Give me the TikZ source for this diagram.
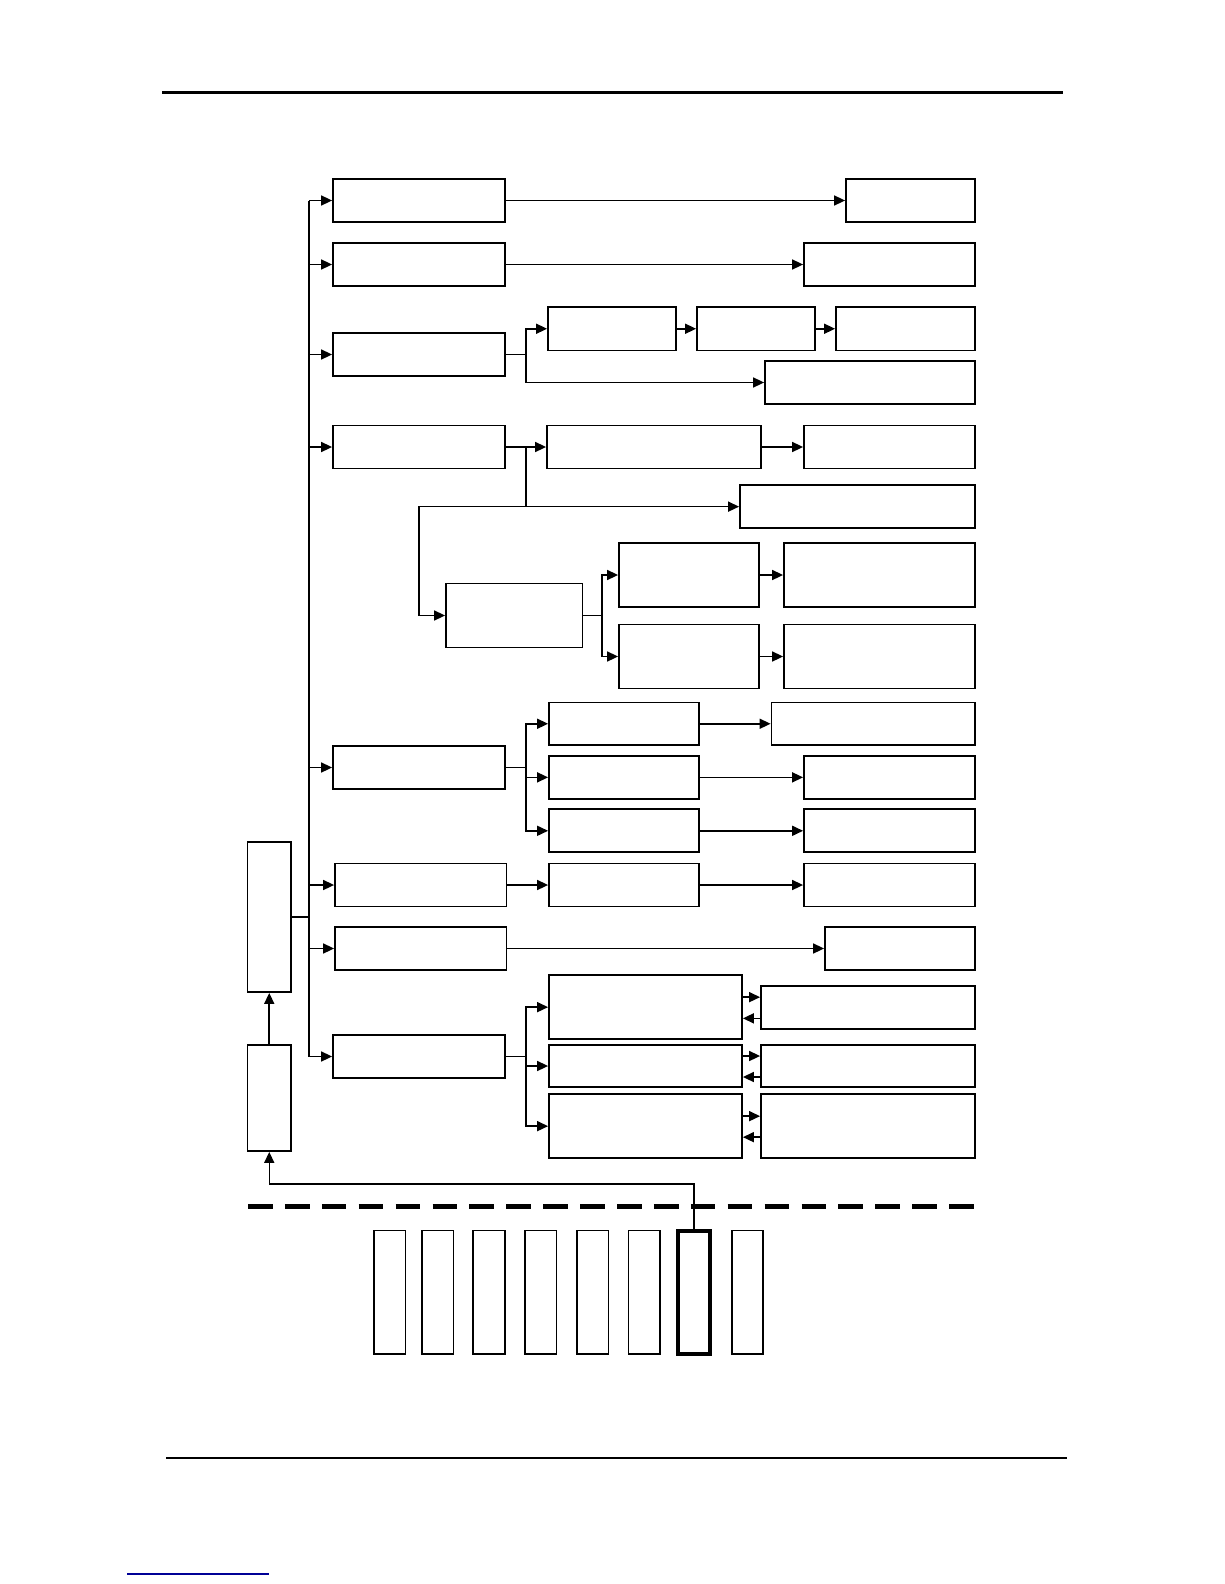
\documentclass[tikz,border=0pt]{standalone}
\usetikzlibrary{arrows.meta,calc}
\definecolor{linkblue}{RGB}{0,0,150}
\tikzset{
  box/.style={draw, line width=1.8pt, inner sep=0pt, fill=white},
  conn/.style={line width=1.6pt},
  arr/.style={conn, -{Triangle[length=11pt,width=10pt]}},
}
\newcommand\bx[6][]{\node[box,#1,minimum width={(#4)-(#2)},minimum height={(#5)-(#3)}] (#6) at ({((#2)+(#4))/2},{((#3)+(#5))/2}) {};}
\begin{document}
\begin{tikzpicture}[x=1pt,y=-1pt]
\useasboundingbox (0,0) rectangle (1224,1584);
% page rules
\draw[line width=3pt] (162,93) -- (1063,93);
\draw[line width=2.3pt] (166,1458) -- (1067,1458);
\draw[line width=1.6pt, linkblue] (127,1574) -- (269,1574);
% helper columns
\coordinate (bus) at (309,0);
\coordinate (c526) at (526,0);
\coordinate (c602) at (602,0);
\coordinate (c419) at (419,0);
\coordinate (h1184) at (0,1184);
% left column
\bx{247.5}{842.3}{291}{992}{A}
\bx{247.5}{1045}{291}{1151}{B}
% row 1
\bx{333}{179}{505}{222}{r1}
\bx{846}{179}{975}{222}{r1e}
% row 2
\bx{333}{243}{505}{286}{r2}
\bx{804}{243}{975}{286}{r2e}
% row 3
\bx{333}{333}{505}{376}{r3}
\bx{548}{307}{676}{350.5}{r3a}
\bx{697}{307}{815}{350.5}{r3b}
\bx{836}{307}{975}{350.5}{r3c}
\bx{765}{361}{975}{404}{r3d}
% row 4
\bx{333}{425.5}{505}{468.5}{r4}
\bx{547}{425.5}{761}{468.5}{r4a}
\bx{804}{425.5}{975}{468.5}{r4b}
\bx{740}{485}{975}{528.3}{r4d}
\bx{446}{583.5}{582.5}{647.5}{r5}
\bx{619}{543}{759}{607}{r6a}
\bx{619}{624.5}{759}{688.5}{r6b}
\bx{784}{543}{975}{607}{r6c}
\bx{784}{624.5}{975}{688.5}{r6d}
% row 7
\bx{333}{746}{505}{789}{r7}
\bx{549}{702.5}{699}{745}{r7a}
\bx{549}{756}{699}{798.7}{r7b}
\bx{549}{809.3}{699}{852.3}{r7c}
\bx{771.5}{702.5}{975}{745}{r7ae}
\bx{804}{756}{975}{798.7}{r7be}
\bx{804}{809.3}{975}{852.3}{r7ce}
% row 8
\bx{335}{863.5}{506.5}{906.5}{r8}
\bx{549}{863.5}{699}{906.5}{r8a}
\bx{804}{863.5}{975}{906.5}{r8e}
% row 9
\bx{335}{927}{506.5}{970}{r9}
\bx{825}{927}{975}{970}{r9e}
% row 10
\bx{333}{1035}{505}{1078}{r10}
\bx{549}{975}{742}{1039.3}{r10a}
\bx{549}{1045}{742}{1087}{r10b}
\bx{549}{1094}{742}{1158.3}{r10c}
\bx{761}{986}{975}{1028.7}{r10ae}
\bx{761}{1045}{975}{1087}{r10be}
\bx{761}{1094}{975}{1158.3}{r10ce}
% bars
\bx{374}{1230.5}{405.5}{1354}{k1}
\bx{422}{1230.5}{453.5}{1354}{k2}
\bx{473}{1230.5}{505}{1354}{k3}
\bx{525}{1230.5}{556.5}{1354}{k4}
\bx{577}{1230.5}{608.5}{1354}{k5}
\bx{628.5}{1230.5}{660}{1354}{k6}
\bx[line width=4pt]{678}{1230.5}{710}{1354}{k7}
\bx{732}{1230.5}{763}{1354}{k8}
% dashed separator
\draw[line width=5pt, dash pattern=on 24.6pt off 12.3pt] (248,1206) -- (975,1206);
% bus
\draw[conn] (r1.west -| bus) -- (r10.west -| bus);
\draw[conn] (A.east) -- (A.east -| bus);
\foreach \r in {r1,r2,r3,r4,r7,r8,r9,r10}
  \draw[arr] (\r.west -| bus) -- (\r.west);
\draw[arr] (B.north) -- (A.south);
\draw[arr, line width=1.5pt] (k7.north) -- (k7.north |- h1184) -| (B.south);
% row 1, 2
\draw[arr] (r1.east) -- (r1e.west);
\draw[arr] (r2.east) -- (r2e.west);
% row 3
\draw[conn] (r3.east) -- (r3.east -| c526);
\draw[arr] (r3.east -| c526) |- (r3a.west);
\draw[arr] (r3.east -| c526) |- (r3d.west);
\draw[arr] (r3a.east) -- (r3b.west);
\draw[arr] (r3b.east) -- (r3c.west);
% row 4
\draw[arr] (r4.east) -- (r4a.west);
\draw[arr] (r4a.east) -- (r4b.west);
\draw[conn] (r4.east -| c526) -- (r4d.west -| c526);
\draw[arr] (r4d.west -| c526) -- (r4d.west);
\draw[arr] (r4d.west -| c526) -- (r4d.west -| c419) |- (r5.west);
\draw[conn] (r5.east) -- (r5.east -| c602);
\draw[arr] (r5.east -| c602) |- (r6a.west);
\draw[arr] (r5.east -| c602) |- (r6b.west);
\draw[arr] (r6a.east) -- (r6c.west);
\draw[arr] (r6b.east) -- (r6d.west);
% row 7
\draw[conn] (r7.east) -- (r7.east -| c526);
\draw[arr] (r7.east -| c526) |- (r7a.west);
\draw[arr] (r7.east -| c526) |- (r7b.west);
\draw[arr] (r7.east -| c526) |- (r7c.west);
\draw[arr] (r7a.east) -- (r7ae.west);
\draw[arr] (r7b.east) -- (r7be.west);
\draw[arr] (r7c.east) -- (r7ce.west);
% row 8, 9
\draw[arr] (r8.east) -- (r8a.west);
\draw[arr] (r8a.east) -- (r8e.west);
\draw[arr] (r9.east) -- (r9e.west);
% row 10
\draw[conn] (r10.east) -- (r10.east -| c526);
\draw[arr] (r10.east -| c526) |- (r10a.west);
\draw[arr] (r10.east -| c526) |- (r10b.west);
\draw[arr] (r10.east -| c526) |- (r10c.west);
\foreach \a/\b in {r10a/r10ae,r10b/r10be,r10c/r10ce}{
  \draw[arr] ([yshift=10pt]\a.east) -- ([yshift=10pt]\a.east -| \b.west);
  \draw[arr] ([yshift=-11pt]\b.west) -- ([yshift=-11pt]\b.west -| \a.east);
}
\end{tikzpicture}
\end{document}
